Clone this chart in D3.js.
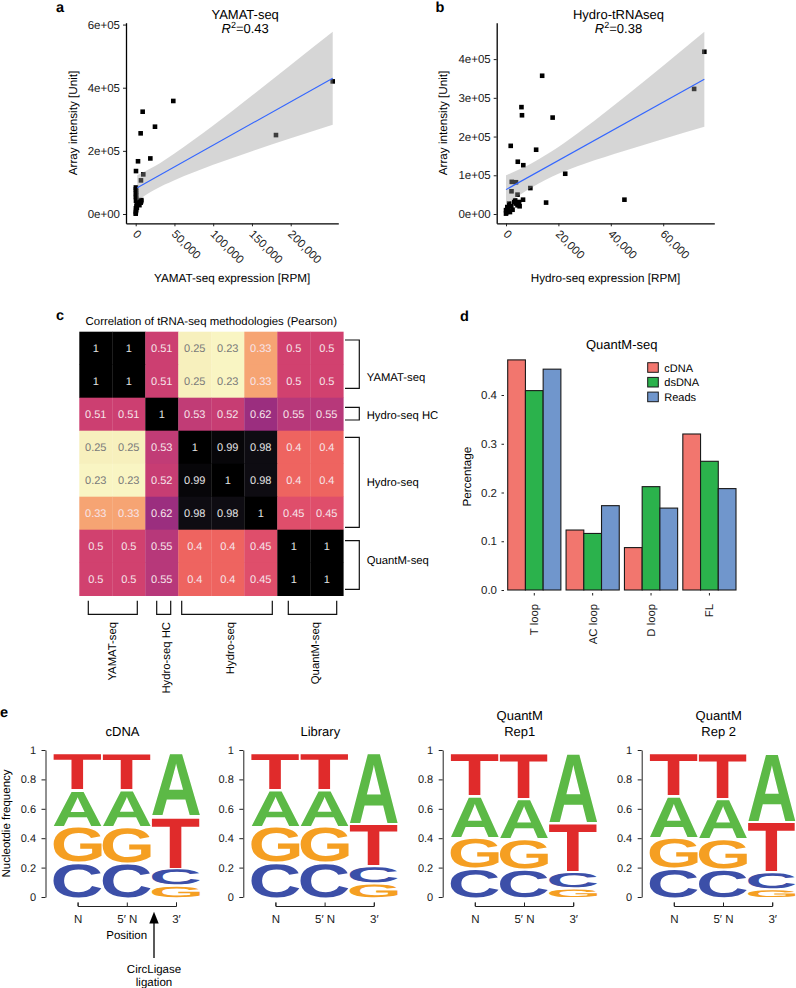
<!DOCTYPE html>
<html><head><meta charset="utf-8">
<script src="https://cdn.jsdelivr.net/npm/d3@7"></script>
<style>body{margin:0;background:#fff;} svg{display:block;} text{text-rendering:geometricPrecision;}</style>
</head><body>
<script>
// ================= DATA =================
// Panel a: YAMAT-seq expression (RPM) vs array intensity
const yamatRPM = [48500, 9000, 24900, 6400, 3000, 18900, 400, 9800, 6800, 181000, 254200,
  200, 300, 500, 300, 600, 200, 800, 400, 1500, 2500, 3500, 5800, 7300, 6500, 4800, 1000, 300, 600, 200, 0, 1500, 2800, 7000];
const yamatIntensity = [358000, 324000, 276500, 255500, 167000, 176000, 136000, 125500, 106500, 250000, 420000,
  84000, 78000, 72000, 66000, 60000, 54000, 48000, 42000, 38000, 35000, 30000, 42000, 44000, 36000, 28000, 25000, 18000, 12000, 6000, 1000, 20000, 32000, 40000];
const yamatFitX = [2000, 254200];
const yamatFitY = [83000, 430000];
const yamatBandX = [2000, 25000, 50000, 100000, 150000, 200000, 254200];
const yamatBandLo = [43000, 78000, 107000, 156000, 199000, 240000, 283000];
const yamatBandHi = [123000, 152000, 192000, 280000, 375000, 472000, 577000];

// Panel b: Hydro-seq expression (RPM) vs array intensity
const hydroRPM = [13800, 5900, 6100, 17800, 1800, 11500, 4500, 6600, 22600, 2200, 3800, 9300, 2100, 4400, 6500, 15300, 45200, 71800, 75700,
  0, 0, 500, 1200, 300, 2500, 3800, 4400, 3100, 5000, 1500, 700, 2000, 3500, 4800, 1000, 5200];
const hydroIntensity = [357000, 276000, 255000, 249000, 176000, 166000, 135000, 126000, 104000, 83000, 82000, 67000, 58700, 50000, 37000, 29500, 37000, 323000, 419000,
  1000, 10000, 18000, 27000, 5000, 11000, 27000, 22500, 31000, 31000, 5000, 14000, 20000, 35000, 25000, 8000, 20000];
const hydroFitX = [0, 75700];
const hydroFitY = [63000, 348000];
const hydroBandX = [0, 10000, 20000, 30000, 45000, 60000, 75700];
const hydroBandLo = [26000, 69000, 104000, 130000, 163000, 194000, 225500];
const hydroBandHi = [100000, 132000, 173000, 222000, 301000, 383000, 470500];

const scatterYTicks = [[0, 200000, 400000, 600000], [0, 100000, 200000, 300000, 400000]];
const scatterYTickLabels = [["0e+00", "2e+05", "4e+05", "6e+05"], ["0e+00", "1e+05", "2e+05", "3e+05", "4e+05"]];
const scatterXTicks = [[0, 50000, 100000, 150000, 200000], [0, 20000, 40000, 60000]];

// Panel c: Pearson correlation matrix
const heatRows = [
  [1, 1, 0.51, 0.25, 0.23, 0.33, 0.5, 0.5],
  [1, 1, 0.51, 0.25, 0.23, 0.33, 0.5, 0.5],
  [0.51, 0.51, 1, 0.53, 0.52, 0.62, 0.55, 0.55],
  [0.25, 0.25, 0.53, 1, 0.99, 0.98, 0.4, 0.4],
  [0.23, 0.23, 0.52, 0.99, 1, 0.98, 0.4, 0.4],
  [0.33, 0.33, 0.62, 0.98, 0.98, 1, 0.45, 0.45],
  [0.5, 0.5, 0.55, 0.4, 0.4, 0.45, 1, 1],
  [0.5, 0.5, 0.55, 0.4, 0.4, 0.45, 1, 1]
];
const heatGroups = ["YAMAT-seq", "Hydro-seq HC", "Hydro-seq", "QuantM-seq"];

// Panel d: QuantM-seq
const loopCategories = ["T loop", "AC loop", "D loop", "FL"];
const loopSeries = ["cDNA", "dsDNA", "Reads"];
const cdnaPct = [0.472, 0.123, 0.087, 0.320];
const dsdnaPct = [0.409, 0.116, 0.212, 0.264];
const readsPct = [0.453, 0.173, 0.168, 0.208];
const pctTicks = [0, 0.1, 0.2, 0.3, 0.4];

// Panel e: sequence logos (nucleotide frequency per position)
const logoPositions = ["N", "5\u2032 N", "3\u2032"];
const logoTitles = [["cDNA"], ["Library"], ["QuantM", "Rep1"], ["QuantM", "Rep 2"]];
const cdnaLogo = [{C: 0.240, G: 0.245, A: 0.250, T: 0.255}, {C: 0.238, G: 0.247, A: 0.252, T: 0.253}, {G: 0.085, C: 0.115, T: 0.355, A: 0.435}];
const libraryLogo = [{C: 0.240, G: 0.245, A: 0.253, T: 0.254}, {C: 0.240, G: 0.245, A: 0.252, T: 0.255}, {G: 0.100, C: 0.115, T: 0.290, A: 0.490}];
const rep1Logo = [{C: 0.200, G: 0.210, A: 0.285, T: 0.295}, {C: 0.195, G: 0.205, A: 0.275, T: 0.315}, {G: 0.065, C: 0.110, T: 0.335, A: 0.480}];
const rep2Logo = [{C: 0.200, G: 0.210, A: 0.285, T: 0.295}, {C: 0.195, G: 0.205, A: 0.275, T: 0.315}, {G: 0.060, C: 0.115, T: 0.345, A: 0.470}];
const logoTicks = [0, 0.2, 0.4, 0.6, 0.8, 1];

// ================= DRAWING =================
const FONT = "'Liberation Sans', Arial, Helvetica, sans-serif";
const svg = d3.select("body").append("svg").attr("width", 796).attr("height", 988)
  .attr("font-family", FONT);

function styleAxis(g, fs) {
  g.selectAll("text").attr("font-size", fs).attr("fill", "#1a1a1a").attr("font-family", FONT);
  g.selectAll(".tick line").attr("stroke", "#222");
}
function panelLetter(t, x, y) {
  svg.append("text").attr("x", x).attr("y", y).attr("font-size", 14.5).attr("font-weight", "bold").text(t);
}

// ---------- scatter panels ----------
const scatterDefs = [
  {xs: yamatRPM, ys: yamatIntensity, fx: yamatFitX, fy: yamatFitY, bx: yamatBandX, blo: yamatBandLo, bhi: yamatBandHi,
   xDom: [-12500, 261400], xRange: [126, 338.3], yDom: [-29450, 605900], yRange: [223.3, 22.7],
   title: "YAMAT-seq", r2: "0.43", xTitle: "YAMAT-seq expression [RPM]", letter: "a", letterX: 56, ytX: 77, ticksI: 0},
  {xs: hydroRPM, ys: hydroIntensity, fx: hydroFitX, fy: hydroFitY, bx: hydroBandX, blo: hydroBandLo, bhi: hydroBandHi,
   xDom: [-3550, 79500], xRange: [496.7, 714.3], yDom: [-24000, 494000], yRange: [223.3, 22.7],
   title: "Hydro-tRNAseq", r2: "0.38", xTitle: "Hydro-seq expression [RPM]", letter: "b", letterX: 435.5, ytX: 446.5, ticksI: 1}
];
scatterDefs.forEach(p => {
  const x = d3.scaleLinear().domain(p.xDom).range(p.xRange);
  const y = d3.scaleLinear().domain(p.yDom).range(p.yRange);
  const g = svg.append("g");
  g.selectAll("rect.pt").data(d3.zip(p.xs, p.ys)).join("rect").attr("class", "pt")
    .attr("x", d => x(d[0]) - 2.3).attr("y", d => y(d[1]) - 2.3)
    .attr("width", 4.6).attr("height", 4.6).attr("fill", "#000");
  g.append("path").datum(d3.range(p.bx.length))
    .attr("d", d3.area().x(i => x(p.bx[i])).y0(i => y(p.blo[i])).y1(i => y(p.bhi[i])).curve(d3.curveMonotoneX))
    .attr("fill", "#999999").attr("fill-opacity", 0.4);
  g.append("line").attr("x1", x(p.fx[0])).attr("y1", y(p.fy[0])).attr("x2", x(p.fx[1])).attr("y2", y(p.fy[1]))
    .attr("stroke", "#3366FF").attr("stroke-width", 1.1);
  const ya = g.append("g").attr("transform", `translate(${p.xRange[0]},0)`)
    .call(d3.axisLeft(y).tickValues(scatterYTicks[p.ticksI]).tickFormat((d, i) => scatterYTickLabels[p.ticksI][i])
      .tickSize(3).tickPadding(3).tickSizeOuter(0));
  styleAxis(ya, 11.5);
  ya.select(".domain").attr("stroke", "#000").attr("stroke-width", 1.3);
  const xa = g.append("g").attr("transform", `translate(0,${p.yRange[0]})`)
    .call(d3.axisBottom(x).tickValues(scatterXTicks[p.ticksI]).tickFormat(d3.format(",")).tickSize(3).tickSizeOuter(0));
  styleAxis(xa, 11.5);
  xa.select(".domain").attr("stroke", "#000").attr("stroke-width", 1.3);
  xa.selectAll(".tick text").attr("x", 0).attr("y", 0).attr("dy", "0.72em")
    .attr("transform", "translate(2,5.7) rotate(45)").attr("text-anchor", "start");
  const cx = (p.xRange[0] + p.xRange[1]) / 2 + 13;
  g.append("text").attr("x", cx).attr("y", 19).attr("text-anchor", "middle").attr("font-size", 13).text(p.title);
  const r2 = g.append("text").attr("x", cx).attr("y", 33).attr("text-anchor", "middle").attr("font-size", 13);
  r2.append("tspan").attr("font-style", "italic").text("R");
  r2.append("tspan").attr("dy", -5).attr("font-size", 9).text("2");
  r2.append("tspan").attr("dy", 5).text("=" + p.r2);
  g.append("text").attr("x", (p.xRange[0] + p.xRange[1]) / 2).attr("y", 281.5).attr("text-anchor", "middle")
    .attr("font-size", 11.7).text(p.xTitle);
  g.append("text").attr("transform", `translate(${p.ytX},123) rotate(-90)`).attr("text-anchor", "middle")
    .attr("font-size", 11.7).text("Array intensity [Unit]");
  panelLetter(p.letter, p.letterX, 11.5);
});

// ---------- panel c: heatmap ----------
panelLetter("c", 56, 320);
const n = heatRows.length;
const xC = d3.scaleBand().domain(d3.range(n)).range([79.3, 343.3]);
const yC = d3.scaleBand().domain(d3.range(n)).range([331.7, 595.7]);
const heatStops = [0.23, 0.25, 0.33, 0.40, 0.45, 0.50, 0.55, 0.62, 0.98, 1.00];
const heatColors = ["#f9f5c3", "#f7f0bd", "#f6a473", "#ee6460", "#df4e6b", "#d1416f", "#b7387a", "#9b2e7f", "#0e0c12", "#000000"];
const heatColor = d3.scaleLinear().domain(heatStops).range(heatColors);
const cells = heatRows.flatMap((row, r) => row.map((v, c) => ({r, c, v})));
const gC = svg.append("g");
gC.selectAll("rect").data(cells).join("rect")
  .attr("x", d => xC(d.c)).attr("y", d => yC(d.r)).attr("width", xC.bandwidth() + 0.3).attr("height", yC.bandwidth() + 0.3)
  .attr("fill", d => heatColor(d.v));
gC.selectAll("text.val").data(cells).join("text").attr("class", "val")
  .attr("x", d => xC(d.c) + xC.bandwidth() / 2).attr("y", d => yC(d.r) + yC.bandwidth() / 2).attr("dy", "0.36em")
  .attr("text-anchor", "middle").attr("font-size", 11)
  .attr("fill", d => d.v < 0.3 ? "#7a7a7a" : (d.v > 0.9 ? "#e4e4e4" : "#f6e4ea"))
  .text(d => String(d.v));
gC.append("text").attr("x", 211.3).attr("y", 325).attr("text-anchor", "middle").attr("font-size", 11.4)
  .text("Correlation of tRNA-seq methodologies (Pearson)");
// right brackets
const rightBr = [[340, 388.3, 381], [407.3, 420, 418.5], [437.3, 527.3, 485.5], [540.7, 589.3, 564]];
rightBr.forEach((b, i) => {
  gC.append("path").attr("d", `M345,${b[0]}H359.3V${b[1]}H345`).attr("fill", "none").attr("stroke", "#111").attr("stroke-width", 1.2);
  gC.append("text").attr("x", 366.7).attr("y", b[2]).attr("font-size", 11.3).text(heatGroups[i]);
});
const bottomBr = [[88.3, 137.3, 111.7], [156.7, 170.7, 165.7], [181.7, 272.3, 230], [288.3, 336.7, 315]];
bottomBr.forEach((b, i) => {
  gC.append("path").attr("d", `M${b[0]},600.7V614.3H${b[1]}V600.7`).attr("fill", "none").attr("stroke", "#111").attr("stroke-width", 1.2);
  gC.append("text").attr("transform", `translate(${b[2]},622) rotate(-90)`).attr("dy", "0.36em")
    .attr("text-anchor", "end").attr("font-size", 11.3).text(heatGroups[i]);
});

// ---------- panel d: grouped bars ----------
panelLetter("d", 460, 320.7);
const gD = svg.append("g");
const xD = d3.scaleBand().domain(loopCategories).range([507.7, 736]).paddingInner(0.089).paddingOuter(0);
const xSub = d3.scaleBand().domain(loopSeries).range([0, xD.bandwidth()]);
const yD = d3.scaleLinear().domain([0, 0.4]).range([590, 395]);
const seriesVals = [cdnaPct, dsdnaPct, readsPct];
const seriesColors = ["#F2766E", "#2BB24C", "#7096CC"];
const barData = loopCategories.flatMap((cat, i) => loopSeries.map((s, j) => ({cat, s, j, v: seriesVals[j][i]})));
gD.selectAll("rect.bar").data(barData).join("rect").attr("class", "bar")
  .attr("x", d => xD(d.cat) + xSub(d.s)).attr("y", d => yD(d.v))
  .attr("width", xSub.bandwidth()).attr("height", d => yD(0) - yD(d.v))
  .attr("fill", d => seriesColors[d.j]).attr("stroke", "#1a1a1a").attr("stroke-width", 1.1);
const yDa = gD.append("g").attr("transform", "translate(504,0)")
  .call(d3.axisLeft(yD).tickValues(pctTicks).tickFormat(d3.format(".1f")).tickSize(2.5).tickPadding(4.5).tickSizeOuter(0));
styleAxis(yDa, 11.5);
yDa.select(".domain").remove();
const xDa = gD.append("g").attr("transform", "translate(0,593)")
  .call(d3.axisBottom(xD).tickSize(2.5).tickSizeOuter(0));
styleAxis(xDa, 11.3);
xDa.select(".domain").remove();
xDa.selectAll(".tick text").attr("x", 0).attr("y", 0).attr("dy", "0.36em")
  .attr("transform", "translate(0,11) rotate(-90)").attr("text-anchor", "end");
gD.append("text").attr("x", 621.7).attr("y", 349).attr("text-anchor", "middle").attr("font-size", 13).text("QuantM-seq");
gD.append("text").attr("transform", "translate(471,476.7) rotate(-90)").attr("text-anchor", "middle")
  .attr("font-size", 11.7).text("Percentage");
const leg = gD.append("g").attr("transform", "translate(647.7,362.7)");
loopSeries.forEach((s, j) => {
  leg.append("rect").attr("x", 0).attr("y", j * 14.7).attr("width", 10.6).attr("height", 9.6)
    .attr("fill", seriesColors[j]).attr("stroke", "#1a1a1a").attr("stroke-width", 1);
  leg.append("text").attr("x", 16.6).attr("y", j * 14.7 + 8.8).attr("font-size", 11).text(s);
});

// ---------- panel e: sequence logos ----------
panelLetter("e", 0, 717.3);
const logoData = [cdnaLogo, libraryLogo, rep1Logo, rep2Logo];
const logoAxisX = [45.5, 243.3, 442.7, 641.7];
const letterColors = {A: "#5cb946", C: "#3c4fa8", G: "#f59f22", T: "#e02b2b"};
const ctx = document.createElement("canvas").getContext("2d");
ctx.font = "bold 100px 'Liberation Sans'";
function glyph(g, L, x, yTop, w, h) {
  if (h <= 0.5) return;
  const m = ctx.measureText(L);
  const gl = m.actualBoundingBoxLeft, gr = m.actualBoundingBoxRight;
  const ga = m.actualBoundingBoxAscent, gd = m.actualBoundingBoxDescent;
  const sx = w / (gl + gr), sy = h / (ga + gd);
  g.append("text").attr("transform", `translate(${x + gl * sx},${yTop + ga * sy}) scale(${sx},${sy})`)
    .attr("font-family", "'Liberation Sans'").attr("font-weight", "bold").attr("font-size", 100)
    .attr("fill", letterColors[L]).text(L);
}
const yE = d3.scaleLinear().domain([0, 1]).range([897, 750]);
const colW = 49.2;
logoData.forEach((cols, li) => {
  const ax = logoAxisX[li];
  const g = svg.append("g");
  const x0 = ax + 7.5;
  const xE = d3.scalePoint().domain(logoPositions).range([x0 + colW / 2, x0 + colW * 2.5]);
  cols.forEach((col, ci) => {
    const letters = Object.keys(col).sort((a, b) => col[a] - col[b]);
    let cum = 0;
    letters.forEach(L => {
      const lo = cum, hi = cum + col[L];
      cum = hi;
      const yb = yE(lo), yt = yE(hi) + 2;
      glyph(g, L, x0 + ci * colW + 0.5, yt, Math.min(colW - 1, 795.5 - (x0 + ci * colW + 0.5)), yb - yt);
    });
  });
  const ya = g.append("g").attr("transform", `translate(${ax},0)`)
    .call(d3.axisLeft(yE).tickValues(logoTicks).tickFormat(d => d === 0 ? "0" : d === 1 ? "1" : d3.format(".1f")(d))
      .tickSize(4).tickPadding(5.5).tickSizeOuter(0));
  styleAxis(ya, 11);
  ya.select(".domain").attr("stroke", "#222").attr("stroke-width", 1);
  const xa = g.append("g").attr("transform", "translate(0,906)")
    .call(d3.axisBottom(xE).tickSizeInner(-3.5).tickSizeOuter(-3.5).tickPadding(9));
  styleAxis(xa, 11.5);
  xa.select(".domain").attr("stroke", "#222").attr("stroke-width", 1);
  const tx = ax + 77;
  const t = logoTitles[li];
  if (t.length === 1) {
    g.append("text").attr("x", tx).attr("y", 736).attr("text-anchor", "middle").attr("font-size", 13).text(t[0]);
  } else {
    g.append("text").attr("x", tx).attr("y", 719.5).attr("text-anchor", "middle").attr("font-size", 13).text(t[0]);
    g.append("text").attr("x", tx).attr("y", 736).attr("text-anchor", "middle").attr("font-size", 13).text(t[1]);
  }
});
svg.append("text").attr("transform", "translate(10,823.5) rotate(-90)").attr("text-anchor", "middle")
  .attr("font-size", 11.5).text("Nucleotdie frequency");
svg.append("text").attr("x", 126.7).attr("y", 938.5).attr("text-anchor", "middle").attr("font-size", 11.5).text("Position");
svg.append("line").attr("x1", 154).attr("y1", 958).attr("x2", 154).attr("y2", 921).attr("stroke", "#000").attr("stroke-width", 1.3);
svg.append("path").attr("d", "M154,911.7L149.3,923.5L158.7,923.5Z").attr("fill", "#000");
svg.append("text").attr("x", 154).attr("y", 972.5).attr("text-anchor", "middle").attr("font-size", 11.5).text("CircLigase");
svg.append("text").attr("x", 154).attr("y", 986).attr("text-anchor", "middle").attr("font-size", 11.5).text("ligation");
</script>
</body></html>
